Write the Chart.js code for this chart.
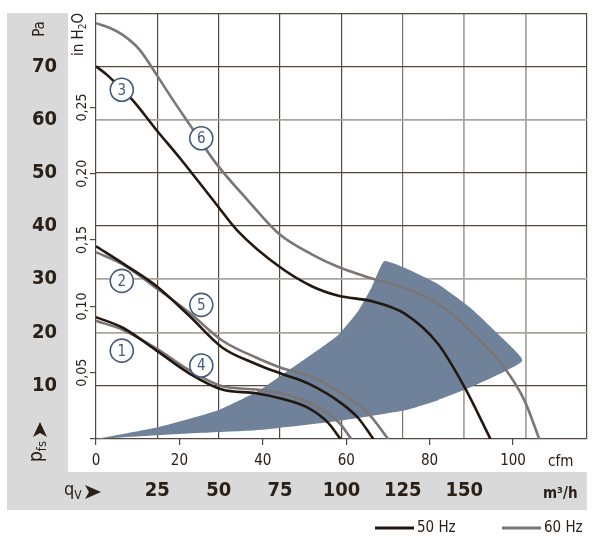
<!DOCTYPE html>
<html>
<head>
<meta charset="utf-8">
<script src="https://cdn.jsdelivr.net/npm/chart.js@4.4.1/dist/chart.umd.min.js"></script>
<style>
  html, body { margin: 0; padding: 0; background: #fff; }
  #fanChart { display: block; }
</style>
</head>
<body>
<canvas id="fanChart" width="600" height="540"></canvas>
<script>
// flow in m3/h, static pressure in Pa
var curve1Flow = [0, 10.9, 24.7, 38.1, 51.4, 65.2, 75.3, 86.6, 94.7, 99.6];
var curve1Pa   = [22.9, 20.9, 16.6, 12.3, 9.3, 8.6, 7.6, 5.8, 3.0, 0];
var curve4Flow = [0, 10.9, 24.7, 38.1, 51.4, 65.2, 75.3, 86.6, 98.8, 104.0];
var curve4Pa   = [22.2, 20.5, 17.0, 12.9, 9.9, 9.3, 8.6, 6.9, 3.2, 0];

var curve2Flow = [0, 10.9, 24.7, 38.1, 51.4, 65.2, 75.3, 86.6, 100.0, 106.9, 113.0];
var curve2Pa   = [36.2, 33.0, 28.7, 23.1, 17.2, 14.1, 12.3, 10.4, 6.7, 3.9, 0];
var curve5Flow = [0, 10.9, 24.7, 38.1, 51.4, 65.2, 75.3, 86.6, 100.0, 110.9, 119.0];
var curve5Pa   = [35.1, 32.8, 28.3, 23.7, 18.5, 15.3, 13.4, 11.9, 8.6, 4.8, 0];

var curve3Flow = [0, 4.5, 15.0, 24.7, 34.8, 49.0, 57.5, 74.9, 87.9, 98.8, 112.1, 125.9, 139.3, 150.2, 160.7];
var curve3Pa   = [70.0, 68.4, 63.6, 58.0, 52.4, 44.1, 39.2, 32.3, 28.7, 26.9, 25.9, 23.5, 17.9, 9.7, 0];
var curve6Flow = [0, 5.7, 10.9, 17.8, 24.7, 31.2, 38.1, 48.2, 62.3, 74.9, 87.9, 98.8, 112.1, 125.9, 139.3, 152.6, 166.4, 174.5, 180.6];
var curve6Pa   = [78.1, 77.2, 75.9, 73.1, 68.4, 63.8, 59.1, 52.2, 44.6, 38.4, 34.7, 32.3, 30.2, 28.3, 25.4, 20.3, 13.4, 7.3, 0];

// operating range outline: upper edge, outer arc, lower edge back to origin
var rangeFlow = [0, 25.1, 49.8, 66.4, 78.5, 90.7, 98.8, 106.9, 112.1, 117.4,
                 125.9, 139.3, 152.6, 163.6, 173.7,
                 152.6, 139.3, 125.9, 98.8, 66.4, 49.8, 25.1, 0];
var rangePa   = [0, 2.2, 5.4, 9.1, 12.9, 16.8, 19.6, 24.1, 28.3, 33.4,
                 32.1, 29.1, 24.6, 19.8, 14.7,
                 9.7, 7.3, 5.4, 3.4, 1.7, 1.3, 0.7, 0];

// numbered curve markers
var markerFlow = [10.5, 42.9, 10.5, 42.9, 10.5, 42.9];
var markerPa   = [65.6, 56.5, 29.7, 25.2, 16.6, 13.8];
var markerText = ['3', '6', '2', '5', '1', '4'];

// axis ticks
var paTicks = [0, 10, 20, 30, 40, 50, 60, 70, 80];
var paLabels = [10, 20, 30, 40, 50, 60, 70];
var m3hTicks = [0, 25, 50, 75, 100, 125, 150, 175, 200];
var m3hLabels = [25, 50, 75, 100, 125, 150];
var cfmTicks = [0, 20, 40, 60, 80, 100];
var inh2oTicks = [0, 0.05, 0.10, 0.15, 0.20, 0.25];
var inh2oLabels = [0.05, 0.10, 0.15, 0.20, 0.25];

var M3H_PER_CFM = 1.699;
var PA_PER_INH2O = 249.09;

var NARROW = "'Liberation Sans Narrow', 'DejaVu Sans Condensed', Roboto, sans-serif";
var TEXT = '#2a2018';
var BLACK = '#231810';
var GRAY = '#7b7675';
var GRID_DARK = '#52493c';
var GRID_LIGHT = '#aaa59c';
var PANEL = '#d9d9d9';
var MARK = '#3f5a7a';

function pts(xs, ys) {
    return xs.map(function (x, i) { return { x: x, y: ys[i] }; });
}

function curve(xs, ys, color, order) {
    return {
        data: pts(xs, ys),
        borderColor: color,
        borderWidth: 2.6,
        pointRadius: 0,
        showLine: true,
        fill: false,
        cubicInterpolationMode: 'monotone',
        order: order
    };
}

function fixTicks(list) {
    return function (scale) {
        scale.ticks = list.map(function (v) { return { value: v }; });
    };
}

// no extra room for half labels at the ends of an axis
function noPad(scale) {
    scale.paddingTop = 0;
    scale.paddingBottom = 0;
    scale.paddingLeft = 0;
    scale.paddingRight = 0;
}

// gray label panels behind the axes
var panels = {
    id: 'panels',
    beforeDraw: function (chart) {
        var ctx = chart.ctx;
        var y = chart.scales.y, x = chart.scales.x;
        ctx.save();
        ctx.fillStyle = '#fff';
        ctx.fillRect(0, 0, chart.width, chart.height);
        ctx.fillStyle = PANEL;
        ctx.fillRect(y.left, chart.chartArea.top, y.right - y.left, x.bottom - chart.chartArea.top);
        ctx.fillRect(y.left, x.top, x.right - y.left, x.bottom - x.top);
        ctx.restore();
    }
};

function arrowHead(ctx, tipX, tipY, dir) {
    // dir: 'right' or 'up'
    ctx.beginPath();
    if (dir === 'right') {
        ctx.moveTo(tipX, tipY);
        ctx.lineTo(tipX - 16, tipY - 7);
        ctx.lineTo(tipX - 12, tipY);
        ctx.lineTo(tipX - 16, tipY + 7);
    } else {
        ctx.moveTo(tipX, tipY);
        ctx.lineTo(tipX - 7, tipY + 15);
        ctx.lineTo(tipX, tipY + 11);
        ctx.lineTo(tipX + 7, tipY + 15);
    }
    ctx.closePath();
    ctx.fill();
}

var decor = {
    id: 'decor',
    afterDatasetsDraw: function (chart) {
        var ctx = chart.ctx;
        var meta = chart.getDatasetMeta(chart.data.datasets.length - 1);
        ctx.save();
        ctx.fillStyle = MARK;
        ctx.font = '15px ' + NARROW;
        ctx.textAlign = 'center';
        ctx.textBaseline = 'middle';
        meta.data.forEach(function (p, i) {
            ctx.fillText(markerText[i], p.x, p.y + 1);
        });
        ctx.restore();
    },
    afterDraw: function (chart) {
        var ctx = chart.ctx;
        var y2 = chart.scales.y2;
        ctx.save();
        ctx.fillStyle = TEXT;

        // inH2O tick labels, rotated
        ctx.font = '14px ' + NARROW;
        ctx.textAlign = 'center';
        ctx.textBaseline = 'middle';
        inh2oLabels.forEach(function (v) {
            var py = y2.getPixelForValue(v);
            ctx.save();
            ctx.translate(82, py);
            ctx.rotate(-Math.PI / 2);
            ctx.fillText(v.toFixed(2).replace('.', ','), 0, 0);
            ctx.restore();
        });

        // "Pa" title
        ctx.save();
        ctx.translate(40, 29);
        ctx.rotate(-Math.PI / 2);
        ctx.font = '15px ' + NARROW;
        ctx.fillText('Pa', 0, 0);
        ctx.restore();

        // "in H2O" title
        ctx.save();
        ctx.translate(83, 56);
        ctx.rotate(-Math.PI / 2);
        ctx.textAlign = 'left';
        ctx.textBaseline = 'alphabetic';
        ctx.font = '15px ' + NARROW;
        ctx.fillText('in H', 0, 0);
        var w = ctx.measureText('in H').width;
        ctx.font = '10px ' + NARROW;
        ctx.fillText('2', w, 3);
        w += ctx.measureText('2').width;
        ctx.font = '15px ' + NARROW;
        ctx.fillText('O', w, 0);
        ctx.restore();

        // p_fs with arrow
        ctx.save();
        ctx.translate(42, 462);
        ctx.rotate(-Math.PI / 2);
        ctx.textAlign = 'left';
        ctx.textBaseline = 'alphabetic';
        ctx.font = '19px ' + NARROW;
        ctx.fillText('p', 0, 0);
        w = ctx.measureText('p').width;
        ctx.font = '13px ' + NARROW;
        ctx.fillText('fs', w, 4);
        ctx.restore();
        arrowHead(ctx, 40, 422, 'up');

        // q_V with arrow
        ctx.textAlign = 'left';
        ctx.textBaseline = 'alphabetic';
        ctx.font = '18px ' + NARROW;
        ctx.fillText('q', 64, 495);
        w = ctx.measureText('q').width;
        ctx.font = '12px ' + NARROW;
        ctx.fillText('V', 64 + w, 499);
        arrowHead(ctx, 101, 492, 'right');

        // unit names
        ctx.textAlign = 'left';
        ctx.textBaseline = 'middle';
        ctx.font = '15px ' + NARROW;
        ctx.fillText('cfm', 548, 462);
        ctx.font = 'bold 15px ' + NARROW;
        ctx.fillText('m³/h', 543, 494);

        // legend
        var ds = chart.data.datasets;
        var items = [
            { x: 375, label: '50 Hz', color: ds[4].borderColor },
            { x: 502, label: '60 Hz', color: ds[5].borderColor }
        ];
        ctx.font = '15px ' + NARROW;
        items.forEach(function (it) {
            ctx.strokeStyle = it.color;
            ctx.lineWidth = 3;
            ctx.beginPath();
            ctx.moveTo(it.x, 528);
            ctx.lineTo(it.x + 39, 528);
            ctx.stroke();
            ctx.fillStyle = TEXT;
            ctx.fillText(it.label, it.x + 42, 528);
        });
        ctx.restore();
    }
};

var ctx = document.getElementById('fanChart').getContext('2d');
var fanChart = new Chart(ctx, {
    type: 'scatter',
    data: {
        datasets: [
            {
                data: pts(rangeFlow, rangePa),
                backgroundColor: '#6f8299',
                borderWidth: 0,
                pointRadius: 0,
                showLine: true,
                tension: 0.15,
                fill: 'shape',
                order: 5
            },
            curve(curve1Flow, curve1Pa, BLACK, 1),
            curve(curve4Flow, curve4Pa, GRAY, 2),
            curve(curve2Flow, curve2Pa, BLACK, 1),
            curve(curve3Flow, curve3Pa, BLACK, 1),
            curve(curve6Flow, curve6Pa, GRAY, 2),
            curve(curve5Flow, curve5Pa, GRAY, 2),
            {
                data: pts(markerFlow, markerPa),
                pointRadius: 11.5,
                pointBackgroundColor: '#fff',
                pointBorderColor: MARK,
                pointBorderWidth: 1.6,
                showLine: false,
                order: 0
            }
        ]
    },
    options: {
        responsive: false,
        animation: false,
        layout: { padding: { left: 7, right: 10, top: 10, bottom: 30 } },
        plugins: {
            legend: { display: false },
            tooltip: { enabled: false }
        },
        scales: {
            x: {
                type: 'linear',
                position: 'bottom',
                weight: 1,
                min: 0,
                max: 200,
                afterBuildTicks: fixTicks(m3hTicks),
                afterFit: function (s) { s.height = 38; noPad(s); },
                border: { display: false },
                grid: {
                    drawTicks: false,
                    color: function (c) {
                        var v = c.tick ? c.tick.value : 0;
                        return (v === 150 || v === 175) ? GRID_LIGHT : (v === 125 ? '#7d766b' : GRID_DARK);
                    },
                    lineWidth: function (c) {
                        var v = c.tick ? c.tick.value : 0;
                        return (v === 150 || v === 175) ? 1.8 : 1.2;
                    }
                },
                ticks: {
                    padding: 7,
                    color: TEXT,
                    font: { family: NARROW, size: 20, weight: 'bold' },
                    callback: function (v) { return m3hLabels.indexOf(v) >= 0 ? String(v) : ''; }
                }
            },
            x2: {
                type: 'linear',
                position: 'bottom',
                weight: 0,
                min: 0,
                max: 200 / M3H_PER_CFM,
                afterBuildTicks: fixTicks(cfmTicks),
                afterFit: function (s) { s.height = 33; noPad(s); },
                border: { display: false },
                grid: { drawOnChartArea: false, tickLength: 6, color: GRID_DARK, lineWidth: 1.2 },
                ticks: {
                    padding: 7,
                    color: TEXT,
                    font: { family: NARROW, size: 15 },
                    callback: function (v) { return String(v); }
                }
            },
            y: {
                type: 'linear',
                position: 'left',
                weight: 1,
                min: 0,
                max: 80,
                afterBuildTicks: fixTicks(paTicks),
                afterFit: function (s) { s.width = 61; noPad(s); },
                border: { display: false },
                grid: {
                    drawTicks: false,
                    color: function (c) {
                        var v = c.tick ? c.tick.value : 0;
                        return (v === 20 || v === 30 || v === 60) ? GRID_LIGHT : GRID_DARK;
                    },
                    lineWidth: function (c) {
                        var v = c.tick ? c.tick.value : 0;
                        return (v === 20 || v === 30 || v === 60) ? 1.8 : 1.2;
                    }
                },
                ticks: {
                    padding: 11,
                    color: TEXT,
                    font: { family: NARROW, size: 20, weight: 'bold' },
                    callback: function (v) { return paLabels.indexOf(v) >= 0 ? String(v) : ''; }
                }
            },
            y2: {
                type: 'linear',
                position: 'left',
                weight: 0,
                min: 0,
                max: 80 / PA_PER_INH2O,
                afterBuildTicks: fixTicks(inh2oTicks),
                afterFit: function (s) { s.width = 28; noPad(s); },
                border: { display: false },
                grid: { drawOnChartArea: false, tickLength: 6, color: GRID_DARK, lineWidth: 1.2 },
                ticks: { display: false }
            }
        }
    },
    plugins: [panels, decor]
});
</script>
</body>
</html>
